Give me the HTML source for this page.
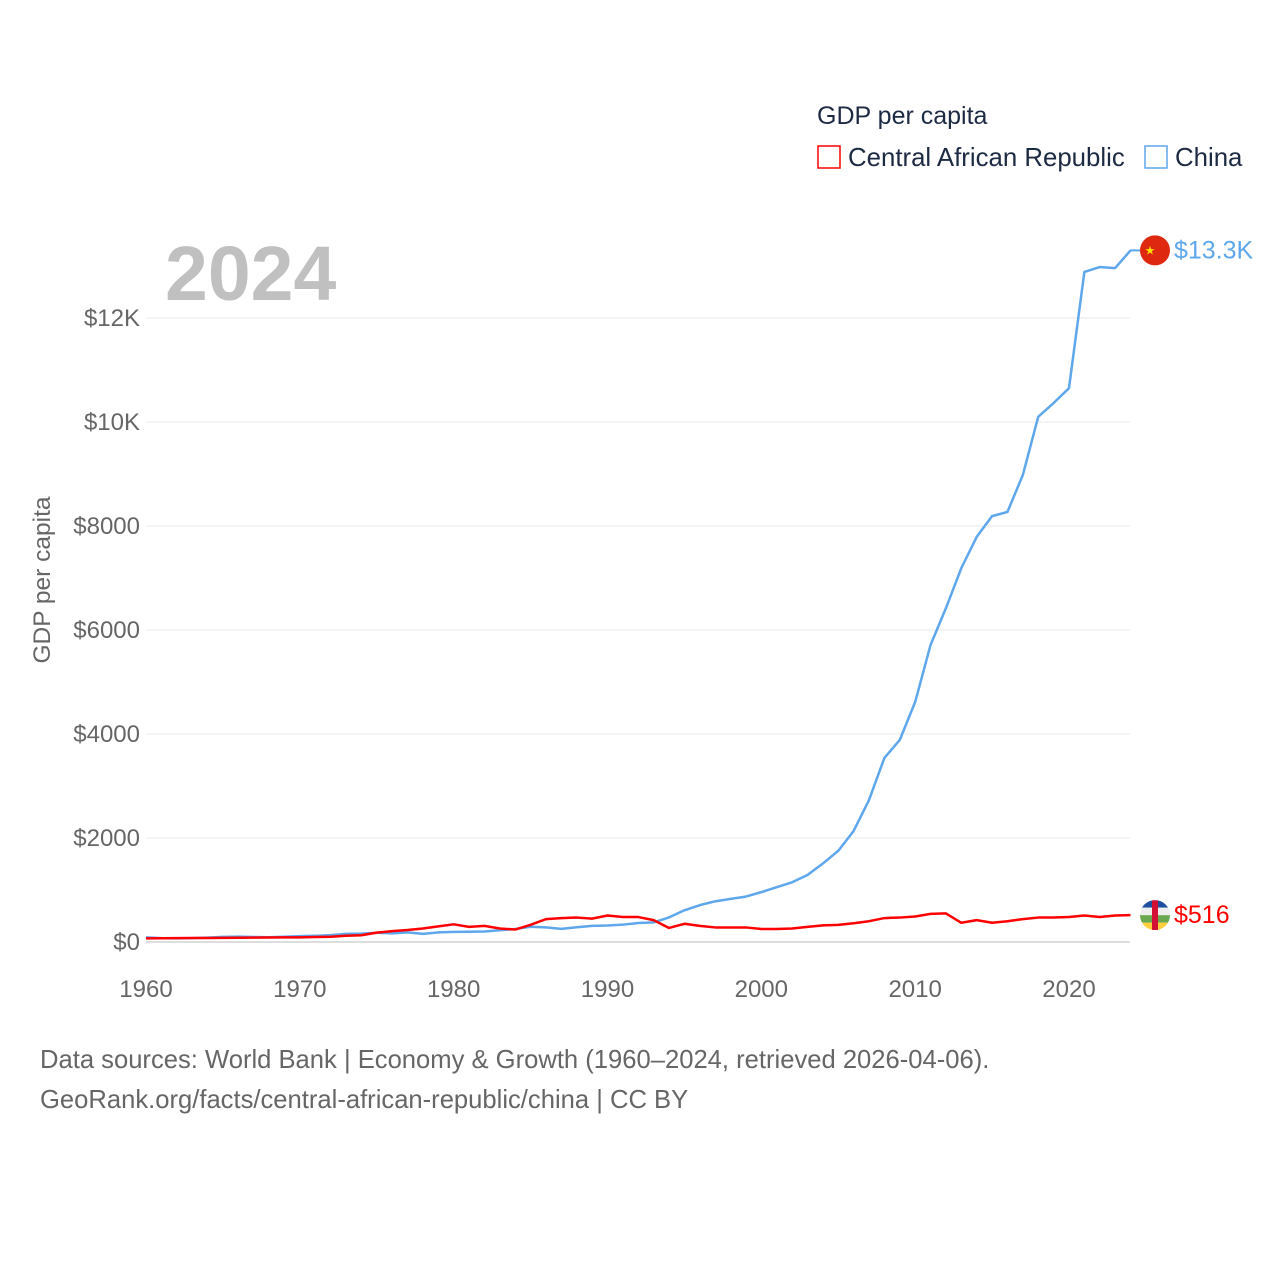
<!DOCTYPE html>
<html><head><meta charset="utf-8"><style>
body{margin:0;background:#fff;width:1280px;height:1280px;overflow:hidden;font-family:"Liberation Sans",sans-serif}
svg text{font-family:"Liberation Sans",sans-serif}
</style></head><body>
<svg width="1280" height="1280" id="chart">
<text x="817" y="124" font-size="25" fill="#1d2a44">GDP per capita</text>
<g><rect x="818" y="146" width="22" height="22" fill="none" stroke="#ff0000" stroke-width="1.5"/><text x="848" y="166" font-size="25.8" fill="#1d2a44">Central African Republic</text></g>
<g><rect x="1145" y="146" width="22" height="22" fill="none" stroke="#5ea7ec" stroke-width="1.5"/><text x="1175" y="166" font-size="25.8" fill="#1d2a44">China</text></g>
<text x="165" y="300" font-size="77" font-weight="bold" fill="#c0c0c0">2024</text>
<text transform="translate(50,580) rotate(-90)" text-anchor="middle" font-size="24.5" fill="#666">GDP per capita</text>
<g id="grid"></g><g id="lines"></g>
<text x="40" y="1068" font-size="25.6" fill="#666">Data sources: World Bank | Economy &amp; Growth (1960–2024, retrieved 2026-04-06).</text>
<text x="40" y="1108" font-size="25.6" fill="#666">GeoRank.org/facts/central-african-republic/china | CC BY</text>
</svg>
<script>
const years=[];for(let y=1960;y<=2024;y++)years.push(y);
const carValues=[70,72,74,76,78,80,82,84,86,88,90,95,100,120,130,180,210,230,260,300,340,290,310,260,240,330,440,460,470,450,510,480,480,420,270,350,310,280,280,280,250,250,260,290,320,330,360,400,460,470,490,540,550,370,420,370,400,440,470,470,480,510,480,510,516];
const chinaValues=[90,75,70,74,85,98,104,97,91,100,113,119,132,157,160,178,165,185,156,184,195,197,203,225,250,294,282,252,284,311,318,333,366,377,473,610,709,782,829,873,959,1053,1149,1289,1509,1753,2135,2730,3540,3885,4615,5710,6420,7190,7790,8190,8270,8980,10100,10365,10650,12885,12980,12960,13300];
const yTicks=[0,2000,4000,6000,8000,10000,12000];
const yTickLabels=["$0","$2000","$4000","$6000","$8000","$10K","$12K"];
const xTicks=[1960,1970,1980,1990,2000,2010,2020];
const NS="http://www.w3.org/2000/svg";
const X=y=>146+(y-1960)*15.383;
const Y=v=>942-v*0.052;
const svg=document.getElementById('chart'),grid=document.getElementById('grid'),lines=document.getElementById('lines');
function mk(t,a,p){const e=document.createElementNS(NS,t);for(const k in a)e.setAttribute(k,a[k]);p.appendChild(e);return e;}
yTicks.forEach((v,i)=>{
 const l=mk('line',{x1:146,x2:1130,y1:Y(v),y2:Y(v),stroke:v===0?'#ddd':'#e8e8e8','stroke-width':v===0?2:1},grid);
 
 
 const t=mk('text',{x:140,y:Y(v)+8,'text-anchor':'end','font-size':24,fill:'#666'},grid);t.textContent=yTickLabels[i];
 
 
});
xTicks.forEach(v=>{
 const t=mk('text',{x:X(v),y:997,'text-anchor':'middle','font-size':24,fill:'#666'},grid);t.textContent=v;
 
 
});
function series(vals,color,name){
 const p=mk('polyline',{points:vals.map((v,i)=>X(years[i])+','+Y(v)).join(' '),fill:'none',stroke:color,'stroke-width':2.5,'stroke-linejoin':'round'},lines);
 
 
}
series(chinaValues,'#5ea7ec','china-line');
series(carValues,'#ff0000','car-line');
const lc=chinaValues[chinaValues.length-1],lr=carValues[carValues.length-1];
const cf=mk('g',{},lines);


mk('line',{x1:1130,x2:1142,y1:Y(lc),y2:Y(lc),stroke:'#5ea7ec','stroke-width':2},cf);
mk('circle',{cx:1155,cy:Y(lc),r:15,fill:'#de2910'},cf);
const st=mk('text',{x:1150,y:Y(lc)+4,'font-size':12,fill:'#ffde00','text-anchor':'middle'},cf);st.textContent='★';
const cl=mk('text',{x:1174,y:Y(lc)+8,'font-size':25,fill:'#5ea7ec'},lines);cl.textContent='$13.3K';


const rf=mk('g',{},lines);


const cy=Y(lr);
mk('clipPath',{id:'cc'},rf);mk('circle',{cx:1155,cy:cy,r:15},rf.lastChild);
const fg=mk('g',{'clip-path':'url(#cc)'},rf);
[['#1e4fa0',-15],['#eeeeee',-7.5],['#6aa84f',0],['#ffce3d',7.5]].forEach(([c,o])=>mk('rect',{x:1140,y:cy+o,width:30,height:7.5,fill:c},fg));
mk('rect',{x:1152,y:cy-15,width:6,height:30,fill:'#d21034'},fg);
const rl=mk('text',{x:1174,y:cy+8,'font-size':25,fill:'#ff0000'},lines);rl.textContent='$516';


</script>
</body></html>
